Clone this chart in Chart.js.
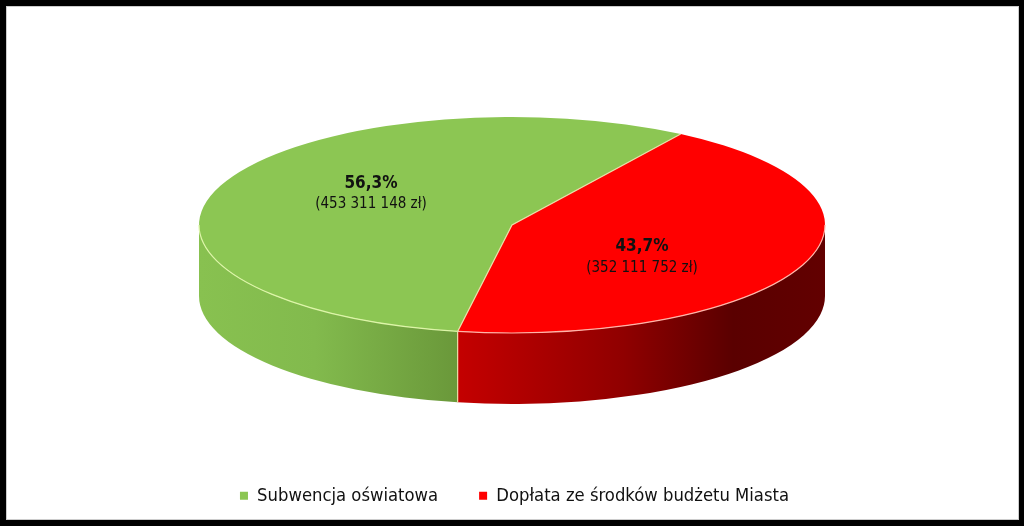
<!DOCTYPE html>
<html>
<head>
<meta charset="utf-8">
<title>Subwencja</title>
<script src="https://cdn.jsdelivr.net/npm/chart.js@4/dist/chart.umd.min.js"></script>
<style>
html, body { margin: 0; padding: 0; background: #000; overflow: hidden; }
#frame { position: absolute; left: 6px; top: 6px; width: 1011px; height: 512px; background: #fff; border: 1px solid #ccc; }
#pieChart { position: absolute; left: 0; top: 0; }
</style>
</head>
<body>
<div id="frame"></div>
<canvas id="pieChart" width="1024" height="526"></canvas>
<script>
const categories = ['Subwencja oświatowa', 'Dopłata ze środków budżetu Miasta'];
const amounts = [453311148, 352111752];
const percentLabels = ['56,3%', '43,7%'];
const amountLabels = ['(453 311 148 zł)', '(352 111 752 zł)'];
const topColors = ['#8CC653', '#FF0000'];

const centerY = 225;
const squash = 108 / 313;
const depth = 71;
const fontName = '"DejaVu Sans Condensed", "DejaVu Sans", sans-serif';
const labelSpots = [[371, 184, 204], [642, 247, 268]];
const wallStops = [
    [[0, '#88C150'], [0.45, '#82BA4D'], [1, '#6A983A']],
    [[0, '#C40000'], [0.45, '#900000'], [0.75, '#5A0000'], [1, '#620000']]
];
const edgeColors = ['#DDF5A8', '#FFB4A8'];
const frontHalves = [[0, Math.PI], [2 * Math.PI, 3 * Math.PI]];

// the pie is drawn flat by chart.js, this squashes it and adds the side wall
const pie3d = {
    id: 'pie3d',
    afterLayout(chart) {
        // legend sits a bit right of the pie centre in the original
        chart.legend.left += 5;
    },
    beforeDatasetsDraw(chart) {
        const ctx = chart.ctx;
        const arcs = chart.getDatasetMeta(0).data;
        arcs.forEach((arc, i) => {
            const r = arc.outerRadius;
            const ry = r * squash;
            frontHalves.forEach(([lo, hi]) => {
                const a0 = Math.max(arc.startAngle, lo);
                const a1 = Math.min(arc.endAngle, hi);
                if (a1 <= a0) return;
                const x0 = arc.x + r * Math.cos(a0);
                const x1 = arc.x + r * Math.cos(a1);
                const grad = ctx.createLinearGradient(Math.min(x0, x1), 0, Math.max(x0, x1), 0);
                wallStops[i].forEach(s => grad.addColorStop(s[0], s[1]));
                ctx.fillStyle = grad;
                ctx.beginPath();
                ctx.ellipse(arc.x, centerY, r, ry, 0, a0, a1);
                ctx.ellipse(arc.x, centerY + depth, r, ry, 0, a1, a0, true);
                ctx.closePath();
                ctx.fill();
            });
        });
        ctx.save();
        ctx.translate(0, centerY);
        ctx.scale(1, squash);
        ctx.translate(0, -arcs[0].y);
    },
    afterDatasetsDraw(chart) {
        const ctx = chart.ctx;
        ctx.restore();
        const arcs = chart.getDatasetMeta(0).data;
        ctx.lineWidth = 1.2;
        arcs.forEach((arc, i) => {
            ctx.strokeStyle = edgeColors[i];
            frontHalves.forEach(([lo, hi]) => {
                const a0 = Math.max(arc.startAngle, lo);
                const a1 = Math.min(arc.endAngle, hi);
                if (a1 <= a0) return;
                ctx.beginPath();
                ctx.ellipse(arc.x, centerY, arc.outerRadius, arc.outerRadius * squash, 0, a0, a1);
                ctx.stroke();
            });
        });
        // seams between the slices
        const a = arcs[0];
        ctx.strokeStyle = '#E8E0A8';
        ctx.beginPath();
        ctx.moveTo(a.x + a.outerRadius * Math.cos(a.endAngle), centerY + a.outerRadius * squash * Math.sin(a.endAngle));
        ctx.lineTo(a.x, centerY);
        const sx = a.x + a.outerRadius * Math.cos(a.startAngle);
        const sy = centerY + a.outerRadius * squash * Math.sin(a.startAngle);
        ctx.lineTo(sx, sy);
        ctx.lineTo(sx, sy + depth);
        ctx.stroke();

        // labels on the slices
        ctx.textAlign = 'center';
        ctx.textBaseline = 'middle';
        ctx.fillStyle = '#111';
        categories.forEach((c, i) => {
            const [x, y1, y2] = labelSpots[i];
            ctx.font = 'bold 17px ' + fontName;
            ctx.fillText(percentLabels[i], x, y1);
            ctx.font = '15px ' + fontName;
            ctx.fillText(amountLabels[i], x, y2);
        });
    }
};

new Chart(document.getElementById('pieChart'), {
    type: 'pie',
    data: {
        labels: categories,
        datasets: [{
            data: amounts,
            backgroundColor: topColors,
            borderWidth: 0,
            radius: 313
        }]
    },
    options: {
        responsive: false,
        animation: false,
        devicePixelRatio: 1,
        rotation: 190,
        layout: { padding: { bottom: 11 } },
        plugins: {
            tooltip: { enabled: false },
            legend: {
                position: 'bottom',
                labels: {
                    boxWidth: 8,
                    boxHeight: 8,
                    padding: 41,
                    color: '#111',
                    font: { family: fontName, size: 18.3 }
                }
            }
        }
    },
    plugins: [pie3d]
});
</script>
</body>
</html>
